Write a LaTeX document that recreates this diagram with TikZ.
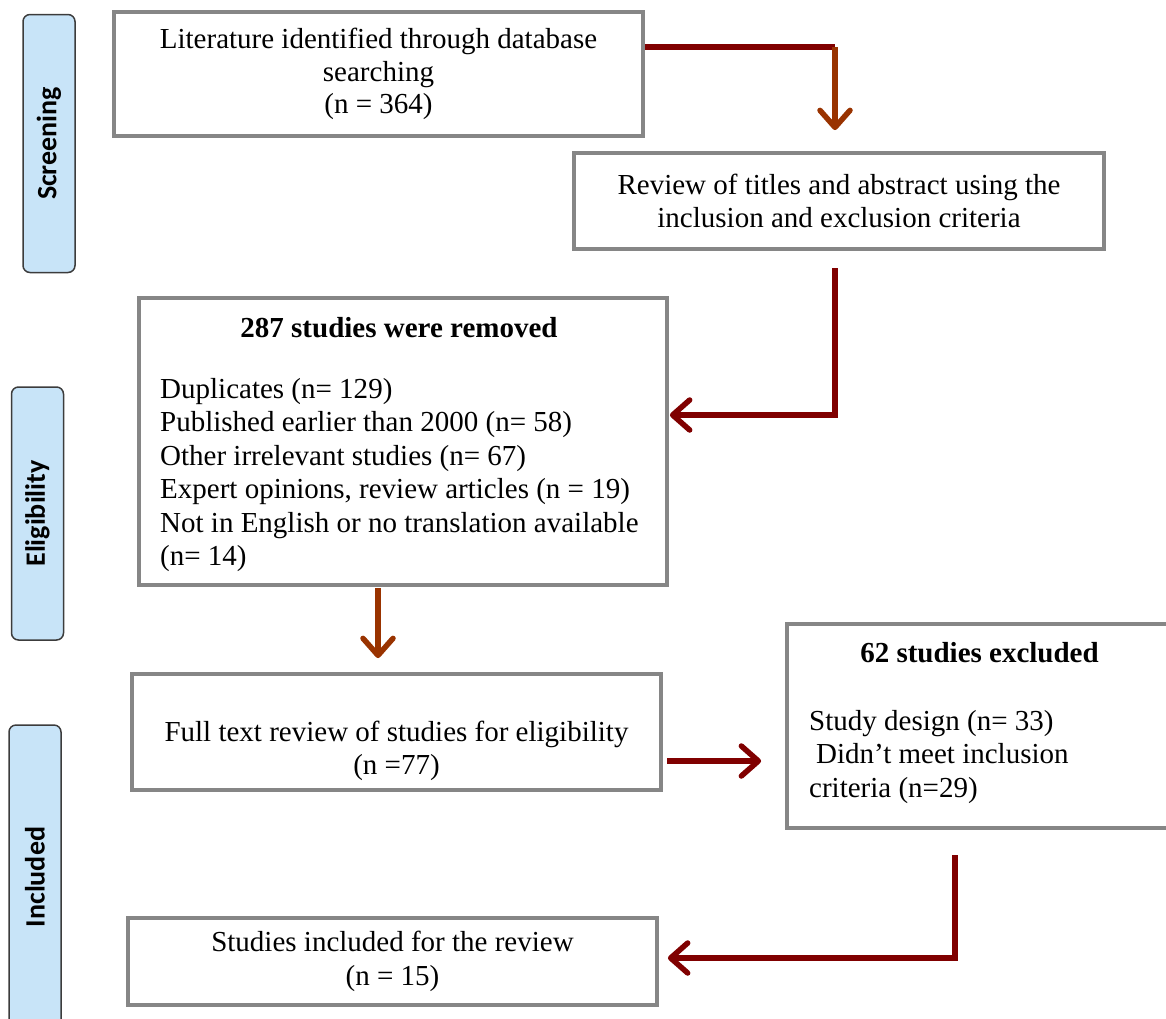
\documentclass[tikz,border=0pt]{standalone}
\usepackage{fontspec}
\setmainfont{Liberation Serif}
\newfontfamily\phasefont{Carlito}
\usetikzlibrary{arrows.meta,positioning}
\definecolor{boxgray}{RGB}{134,134,134}
\definecolor{flowred}{RGB}{128,0,0}
\definecolor{flowbrown}{RGB}{153,51,0}
\definecolor{phasefill}{RGB}{200,228,248}
\definecolor{phasedraw}{RGB}{60,60,60}

\begin{document}
\begin{tikzpicture}[x=1pt, y=-1pt,
    font=\fontsize{29}{33.5}\selectfont,
    box/.style={rectangle, draw=boxgray, line width=3.8pt, inner sep=0pt, align=center},
    txt/.style={inner sep=0pt, align=left},
    phase/.style={rectangle, draw=phasedraw, fill=phasefill, rounded corners=7pt, line width=1.5pt, rotate=90, minimum height=52pt, font=\phasefont\bfseries\fontsize{28}{30}\selectfont},
    flow/.style={draw=flowred, line width=5.5pt},
    flowarrow/.style={-{Straight Barb[length=17pt,width=30pt,round]}, draw=#1, line width=5.5pt}
]
    \useasboundingbox (0,0) rectangle (1166,1018);

    % phases
    \node[phase, minimum width=258pt] (screening) at (49,143.5) {Screening};
    \node[phase, minimum width=253pt] (eligibility) at (37.5,513.5) {Eligibility};
    \node[phase, minimum width=304pt] (included) at (35,877) {Included};

    % boxes
    \node[box, minimum width=529pt, minimum height=124pt, font=\fontsize{29}{32.5}\selectfont] (lit) at (378.5,74) {Literature identified through database\\searching\\(n = 364)};
    \node[box, minimum width=530pt, minimum height=96pt] (review) at (839,201) {Review of titles and abstract using the\\inclusion and exclusion criteria};
    \node[box, minimum width=528pt, minimum height=287pt] (removed) at (403,441.5) {};
    \node[txt, anchor=base] (removedhead) at (399,337) {\textbf{287 studies were removed}};
    \node[txt, anchor=west] (removedlist) at (160,475) {Duplicates (n= 129)\\Published earlier than 2000 (n= 58)\\Other irrelevant studies (n= 67)\\Expert opinions, review articles (n = 19)\\Not in English or no translation available\\(n= 14)};
    \node[box, minimum width=529pt, minimum height=116pt] (fulltext) at (396.5,732) {};
    \node[txt, align=center] (fulltextlabel) at (396.5,751) {Full text review of studies for eligibility\\(n =77)};
    \node[box, minimum width=386pt, minimum height=204pt] (excluded) at (980,726) {};
    \node[txt, anchor=base] (excludedhead) at (979.5,662) {\textbf{62 studies excluded}};
    \node[txt, anchor=west] (excludedlist) at (809,757) {Study design (n= 33)\\\hspace*{7pt}Didn’t meet inclusion\\criteria (n=29)};
    \node[box, minimum width=529pt, minimum height=87pt] (studies) at (392.5,961.5) {Studies included for the review\\(n = 15)};

    \coordinate (c1) at (835,47);
    \coordinate (c2) at (835,268);
    \coordinate (c3) at (835,415);
    \coordinate (c4) at (378,588);
    \coordinate (c5) at (667,761);
    \coordinate (c6) at (955,855);
    \coordinate (c7) at (955,958);

    \draw[flow] (lit.east |- c1) -- (c1);
    \draw[flowarrow=flowbrown] (c1) -- ([yshift=21pt]review.north -| c1);
    \draw[flowarrow=flowred] (c2) |- ([xshift=1pt]removed.east |- c3);
    \draw[flowarrow=flowbrown] (c4) -- ([yshift=14pt]fulltext.north -| c4);
    \draw[flowarrow=flowred] (c5) -- ([xshift=-24pt]excluded.west |- c5);
    \draw[flowarrow=flowred] (c6) |- ([xshift=9pt]studies.east |- c7);

\end{tikzpicture}
\end{document}
